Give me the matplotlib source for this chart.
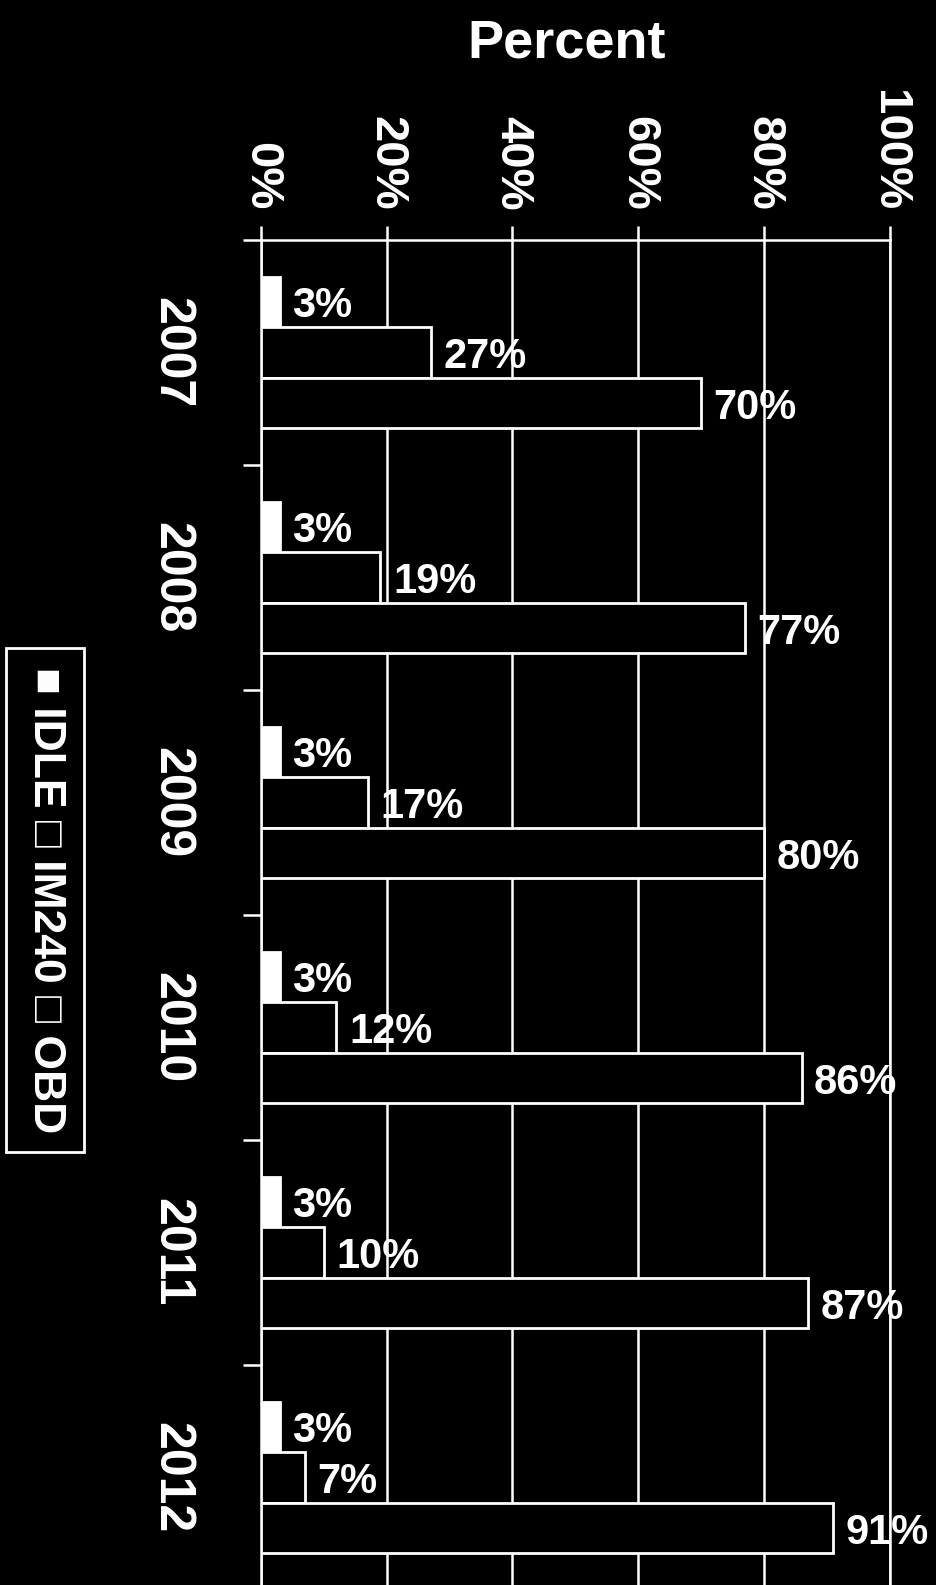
import numpy as np
import matplotlib
matplotlib.use("Agg")
import matplotlib.pyplot as plt

years = ['2007', '2008', '2009', '2010', '2011', '2012']
idle = [3, 3, 3, 3, 3, 3]
im240 = [27, 19, 17, 12, 10, 7]
obd = [70, 77, 80, 86, 87, 91]
xticks = [0, 20, 40, 60, 80, 100]

fonts = ['Liberation Sans', 'DejaVu Sans']
plt.rcParams['font.family'] = fonts
plt.rcParams['font.weight'] = 'bold'

W, H = 937, 1585
fig = plt.figure(figsize=(W / 100, H / 100), dpi=100, facecolor='black')
ax = fig.add_axes([261 / W, -5 / H, 628.5 / W, 1350 / H], facecolor='black')

ax.set_xlim(0, 100)
ax.set_ylim(len(years), 0)

centers = np.arange(len(years)) + 0.5
bh = 0.225
series = [(idle, 'white', -bh), (im240, 'black', 0), (obd, 'black', bh)]
for vals, col, off in series:
    ax.barh(centers + off, vals, height=bh, color=col, edgecolor='white',
            linewidth=2, zorder=3)
    for y, v in zip(centers + off, vals):
        ax.text(v + 2, y + 0.02, f'{v}%', color='white', fontsize=30,
                fontweight='bold', va='center', ha='left', zorder=4)

# grid + spines
ax.grid(axis='x', color='white', linewidth=1.8, zorder=1)
ax.spines['bottom'].set_visible(False)
for s in ['top', 'left', 'right']:
    ax.spines[s].set_color('white')
    ax.spines[s].set_linewidth(1.8)

ax.xaxis.tick_top()
ax.set_xticks(xticks)
ax.set_xticklabels([f'{v}%' for v in xticks], rotation=-90)
ax.tick_params(axis='x', colors='white', length=10, width=1.8, pad=11,
               labelsize=34)

ax.set_yticks(np.arange(len(years) + 1))
ax.set_yticklabels([])
ax.set_yticks(centers, minor=True)
ax.set_yticklabels(years, minor=True, rotation=-90, va='center')
ax.tick_params(axis='y', which='major', colors='white', length=13, width=1.8)
ax.tick_params(axis='y', which='minor', colors='white', length=0, pad=48,
               labelsize=36)

fig.text(567 / W, 1 - 43 / H, 'Percent', color='white', fontsize=39,
         fontweight='bold', ha='center', va='center')

# legend drawn as rotated text in a box
fig.text(45 / W, 1 - 900 / H, '\u25a0 IDLE \u25a1 IM240 \u25a1 OBD',
         color='white', fontsize=32, fontweight='bold', rotation=-90,
         ha='center', va='center',
         bbox=dict(boxstyle='square,pad=0.42', facecolor='black',
                   edgecolor='white', linewidth=2))

fig.savefig('out.png', dpi=100, facecolor='black')
